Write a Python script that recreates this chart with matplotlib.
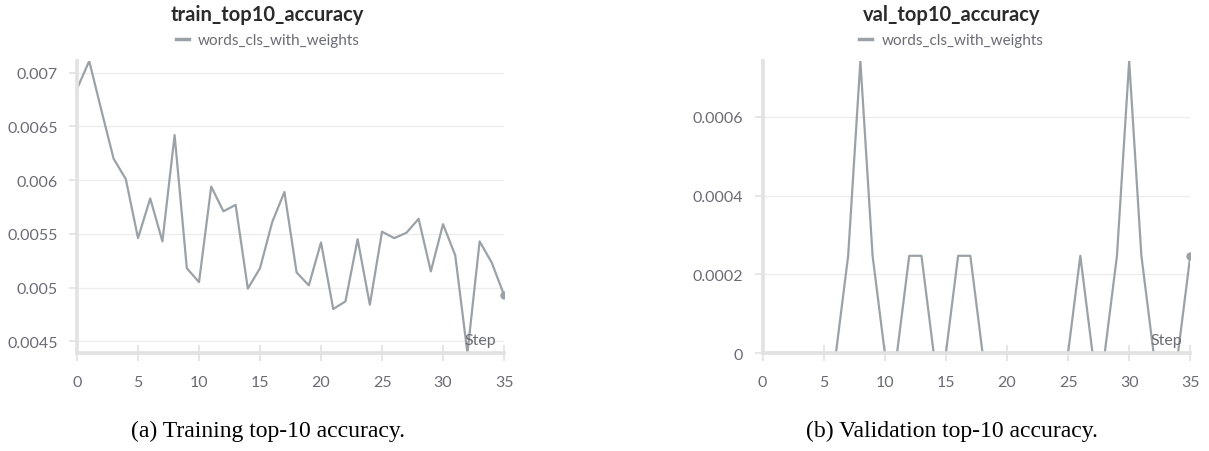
import matplotlib
matplotlib.use("Agg")
import matplotlib.pyplot as plt
from matplotlib.lines import Line2D
from matplotlib.ticker import FuncFormatter

steps = list(range(36))

train_top10 = [
    0.00685, 0.00711, 0.00665, 0.00620, 0.00601, 0.00546, 0.00583, 0.00543,
    0.00642, 0.00518, 0.00505, 0.00594, 0.00571, 0.00577, 0.00499, 0.00518,
    0.00561, 0.00589, 0.00514, 0.00502, 0.00542, 0.00480, 0.00487, 0.00545,
    0.00484, 0.00552, 0.00546, 0.00551, 0.00564, 0.00515, 0.00559, 0.00530,
    0.00439, 0.00543, 0.00523, 0.00493,
]

val_top10 = [
    0, 0, 0, 0, 0, 0, 0, 0.000247,
    0.000742, 0.000247, 0, 0, 0.000247, 0.000247, 0, 0,
    0.000247, 0.000247, 0, 0, 0, 0, 0, 0,
    0, 0, 0.000247, 0, 0, 0.000247, 0.000742, 0.000247,
    0, 0, 0, 0.000247,
]

train_yticks = [0.0045, 0.005, 0.0055, 0.006, 0.0065, 0.007]
val_yticks = [0, 0.0002, 0.0004, 0.0006]
xticks = [0, 5, 10, 15, 20, 25, 30, 35]

titles = ["train_top10_accuracy", "val_top10_accuracy"]
captions = ["(a) Training top-10 accuracy.", "(b) Validation top-10 accuracy."]
run_name = "words_cls_with_weights"

# --- Style ---
LINE = "#9ba2a7"
TEXT = "#6b6b76"
GRID = "#ededed"
SPINE = "#e2e2e2"
plt.rcParams["font.family"] = ["Lato", "DejaVu Sans"]


def trim(v, _pos):
    s = "%.4f" % v
    s = s.rstrip("0").rstrip(".")
    return s if s else "0"


fig = plt.figure(figsize=(12.09, 4.52), dpi=100)
ax1 = fig.add_axes([0.0637, 0.2168, 0.3532, 0.646])
ax2 = fig.add_axes([0.6308, 0.2168, 0.3537, 0.646])

panels = [
    (ax1, train_top10, train_yticks, (min(train_top10), max(train_top10))),
    (ax2, val_top10, val_yticks, (0, max(val_top10))),
]

for ax, ys, yt, ylim in panels:
    ax.plot(steps, ys, color=LINE, lw=1.6, marker="o", markevery=[len(ys) - 1],
            markersize=5, zorder=2)
    ax.set_xlim(0, 35)
    ax.set_ylim(*ylim)
    ax.set_xticks(xticks)
    ax.set_yticks(yt)
    ax.yaxis.set_major_formatter(FuncFormatter(trim))
    ax.grid(axis="y", color=GRID, lw=1)
    for side in ["top", "right"]:
        ax.spines[side].set_visible(False)
    for side in ["left", "bottom"]:
        ax.spines[side].set_color(SPINE)
        ax.spines[side].set_linewidth(2.6)
        ax.spines[side].set_zorder(3)
    ax.tick_params(axis="x", direction="inout", length=11, width=1.2, color=SPINE,
                   labelcolor=TEXT, labelsize=11.5, pad=10)
    ax.tick_params(axis="y", direction="out", length=6, width=1.2, color=SPINE,
                   labelcolor=TEXT, labelsize=11.5, pad=8)
    ax.text(0.982, 0.045, "Step", transform=ax.transAxes, ha="right", va="center",
            color=TEXT, fontsize=11.5)

# titles + legends + captions
centers = [0.2215, 0.787]
for cx, title, cap in zip(centers, titles, captions):
    fig.text(cx, 1 - 15 / 452, title, ha="center", va="center",
             fontsize=14.5, fontweight="bold", color="#2b2b2b")
    handle = Line2D([], [], color=LINE, lw=2.5)
    fig.legend(handles=[handle], labels=[run_name], loc="center",
               bbox_to_anchor=(cx, 1 - 41 / 452), frameon=False, fontsize=11,
               handlelength=0.85, handletextpad=0.6, labelcolor=TEXT,
               borderpad=0, borderaxespad=0)
    fig.text(cx, 1 - 431 / 452, cap, ha="center", va="center",
             fontsize=17, family="Liberation Serif", color="black")

fig.savefig("out.png", dpi=100)
